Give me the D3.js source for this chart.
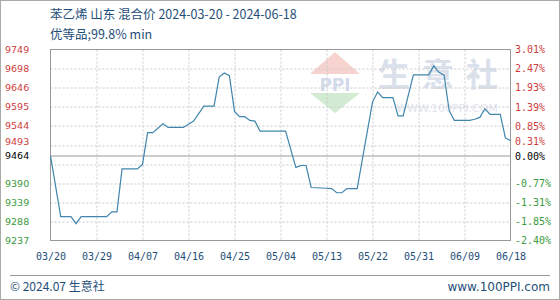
<!DOCTYPE html>
<html>
<head>
<meta charset="utf-8">
<script src="https://cdn.jsdelivr.net/npm/d3@7"></script>
<style>
  body { margin: 0; background: #fff; }
  svg { display: block; }
</style>
</head>
<body>
<svg id="graph"></svg>
<script>
// chart values
var dates = ["2024-03-20","2024-03-22","2024-03-24","2024-03-25","2024-03-26","2024-03-31","2024-04-01","2024-04-02",
  "2024-04-03","2024-04-06","2024-04-07","2024-04-08","2024-04-09","2024-04-11","2024-04-12","2024-04-15",
  "2024-04-17","2024-04-19","2024-04-21","2024-04-22","2024-04-23","2024-04-24","2024-04-25","2024-04-26",
  "2024-04-27","2024-04-28","2024-04-29","2024-04-30","2024-05-05","2024-05-07","2024-05-08","2024-05-09",
  "2024-05-10","2024-05-13","2024-05-14","2024-05-15","2024-05-16","2024-05-17","2024-05-19","2024-05-22",
  "2024-05-23","2024-05-24","2024-05-26","2024-05-27","2024-05-28","2024-05-30","2024-06-02","2024-06-03",
  "2024-06-04","2024-06-05","2024-06-06","2024-06-07","2024-06-10","2024-06-11","2024-06-12","2024-06-13",
  "2024-06-14","2024-06-16","2024-06-17","2024-06-18"];
var prices = [9464,9301,9301,9282,9301,9301,9314,9314,
  9429,9429,9441,9526,9526,9550,9540,9540,
  9557,9597,9597,9675,9686,9679,9583,9569,
  9569,9559,9557,9530,9530,9433,9438,9438,
  9379,9377,9376,9365,9365,9376,9376,9608,
  9635,9620,9620,9571,9571,9681,9681,9705,
  9688,9681,9585,9559,9559,9562,9567,9590,
  9575,9575,9512,9505];

var xTickDates = ["2024-03-20","2024-03-29","2024-04-07","2024-04-16","2024-04-25","2024-05-04",
  "2024-05-13","2024-05-22","2024-05-31","2024-06-09","2024-06-18"];
var xTickLabels = ["03/20","03/29","04/07","04/16","04/25","05/04","05/13","05/22","05/31","06/09","06/18"];

var baseValue = 9464;
var gridValues = [9237,9288.2,9339.4,9390.6,9441.8,9493,9544.2,9595.4,9646.6,9697.8,9749];
var yTickValues = [9237,9288.2,9339.4,9390.6,9464,9493,9544.2,9595.4,9646.6,9697.8,9749];
var yTickLabels = ["9237","9288","9339","9390","9464","9493","9544","9595","9646","9698","9749"];
var pctLabels = ["-2.40%","-1.85%","-1.31%","-0.77%","0.00%","0.31%","0.85%","1.39%","1.93%","2.47%","3.01%"];

var titleText = "苯乙烯 山东 混合价 2024-03-20 - 2024-06-18";
var subText = "优等品;99.8% min";

// main container
var svg = d3.select("#graph")
    .attr("width", 560)
    .attr("height", 300);

var margin = {top: 49.5, right: 49.5, bottom: 59.5, left: 50.5},
    width = 560 - margin.left - margin.right,
    height = 300 - margin.top - margin.bottom;

var parse = d3.timeParse("%Y-%m-%d");
var data = dates.map(function(d, i) { return {date: parse(d), value: prices[i]}; });

var x = d3.scaleTime()
    .domain([parse("2024-03-20"), parse("2024-06-18")])
    .range([0, width]);
var y = d3.scaleLinear()
    .domain([9237, 9749])
    .range([height, 0]);

var red = "#d03c3c", green = "#3c9a3c", blue = "#1f4e79";
function tickColor(v) { return v > baseValue + 0.5 ? red : (v < baseValue - 0.5 ? green : "#000"); }

// outer frame
svg.append("rect")
    .attr("x", 0.5).attr("y", 0.5)
    .attr("width", 559).attr("height", 299)
    .attr("fill", "none")
    .attr("stroke", "#aaa");

// titles
svg.append("text")
    .attr("x", 50).attr("y", 19)
    .attr("fill", blue)
    .style("font", "12.5px 'Noto Sans CJK SC', sans-serif")
    .text(titleText);
svg.append("text")
    .attr("x", 50).attr("y", 39)
    .attr("fill", blue)
    .style("font", "12.5px 'Noto Sans CJK SC', sans-serif")
    .text(subText);

var g = svg.append("g")
    .attr("transform", "translate(" + margin.left + "," + margin.top + ")");

// watermark logo
var wm = g.append("g").attr("opacity", 0.5);
wm.append("path")
    .attr("d", "M" + (310 - margin.left) + "," + (74 - margin.top) + "L" + (335 - margin.left) + "," + (52 - margin.top) + "L" + (360 - margin.left) + "," + (74 - margin.top) + "Z")
    .attr("fill", "#f0a8a0");
wm.append("path")
    .attr("d", "M" + (310 - margin.left) + "," + (93 - margin.top) + "L" + (360 - margin.left) + "," + (93 - margin.top) + "L" + (335 - margin.left) + "," + (113 - margin.top) + "Z")
    .attr("fill", "#a8d8a8");
wm.append("text")
    .attr("x", 335 - margin.left).attr("y", 91 - margin.top)
    .attr("text-anchor", "middle")
    .attr("fill", "#a8b8d8")
    .style("font", "bold 17px 'DejaVu Sans', sans-serif")
    .text("PPI");
wm.append("text")
    .attr("x", 444 - margin.left).attr("y", 86 - margin.top)
    .attr("text-anchor", "middle")
    .attr("fill", "#b8c4d8")
    .style("font", "bold 32px 'Noto Sans CJK SC', sans-serif")
    .style("letter-spacing", "12px")
    .text("生意社");
wm.append("text")
    .attr("x", 447 - margin.left).attr("y", 112 - margin.top)
    .attr("text-anchor", "middle")
    .attr("fill", "#c4ccd8")
    .style("font", "11px 'DejaVu Sans', sans-serif")
    .text("WWW.100PPI.COM");

// dashed grid lines
g.selectAll(".hgrid")
  .data(gridValues.slice(1, -1))
  .enter().append("line")
    .attr("x1", 0).attr("x2", width)
    .attr("y1", function(d) { return Math.round(y(d)) + 0.5; })
    .attr("y2", function(d) { return Math.round(y(d)) + 0.5; })
    .attr("stroke", "#c8c8c8")
    .attr("stroke-dasharray", "2,2");

g.selectAll(".vgrid")
  .data(xTickDates.slice(1, -1))
  .enter().append("line")
    .attr("x1", function(d) { return Math.round(x(parse(d))) + 0.5; })
    .attr("x2", function(d) { return Math.round(x(parse(d))) + 0.5; })
    .attr("y1", 0).attr("y2", height)
    .attr("stroke", "#c8c8c8")
    .attr("stroke-dasharray", "2,2");

// base line at start value
g.append("line")
    .attr("x1", 0).attr("x2", width)
    .attr("y1", Math.round(y(baseValue)) + 0.5)
    .attr("y2", Math.round(y(baseValue)) + 0.5)
    .attr("stroke", "#999");

// plot frame
g.append("rect")
    .attr("width", width).attr("height", height)
    .attr("fill", "none")
    .attr("stroke", "#999");

// left axis - price labels
var yLeft = g.append("g")
    .attr("transform", "translate(-45.5,0)")
    .call(d3.axisRight(y).tickValues(yTickValues).tickSize(0).tickPadding(0)
      .tickFormat(function(d, i) { return yTickLabels[i]; }));
yLeft.select(".domain").remove();
yLeft.selectAll("text")
    .attr("fill", function(d) { return tickColor(d); })
    .style("font", "9.5px 'DejaVu Sans', sans-serif");
yLeft.selectAll(".tick").filter(function(d) { return d === 9493; })
    .select("text").attr("dy", "-0.1em");

// right axis - percent labels
var yRight = g.append("g")
    .attr("transform", "translate(" + (width + 4.5) + ",0)")
    .call(d3.axisRight(y).tickValues(yTickValues).tickSize(0).tickPadding(0)
      .tickFormat(function(d, i) { return pctLabels[i]; }));
yRight.select(".domain").remove();
yRight.selectAll("text")
    .attr("fill", function(d) { return tickColor(d); })
    .style("font", "10px 'DejaVu Sans Mono', monospace");
yRight.selectAll(".tick").filter(function(d) { return d === 9493; })
    .select("text").attr("dy", "-0.1em");

// bottom axis - dates
var xAxis = g.append("g")
    .attr("transform", "translate(0," + height + ")")
    .call(d3.axisBottom(x).tickValues(xTickDates.map(parse)).tickSize(0).tickPadding(12)
      .tickFormat(function(d, i) { return xTickLabels[i]; }));
xAxis.select(".domain").remove();
xAxis.selectAll("text")
    .attr("fill", blue)
    .style("font", "10px 'DejaVu Sans Mono', monospace");

// price line
var line = d3.line()
    .x(function(d) { return x(d.date); })
    .y(function(d) { return y(d.value); });

g.append("path")
    .datum(data)
    .attr("fill", "none")
    .attr("stroke", "#3f85ad")
    .attr("stroke-width", 1.2)
    .attr("d", line);

// footer
svg.append("line")
    .attr("x1", 10).attr("x2", 550)
    .attr("y1", 275.5).attr("y2", 275.5)
    .attr("stroke", "#999");
svg.append("text")
    .attr("x", 10).attr("y", 291)
    .attr("fill", blue)
    .style("font", "12px 'Noto Sans CJK SC', sans-serif")
    .text("© 2024.07 生意社");
svg.append("text")
    .attr("x", 550).attr("y", 291)
    .attr("text-anchor", "end")
    .attr("fill", blue)
    .style("font", "12px 'DejaVu Sans', sans-serif")
    .text("www.100PPI.com");
</script>
</body>
</html>
